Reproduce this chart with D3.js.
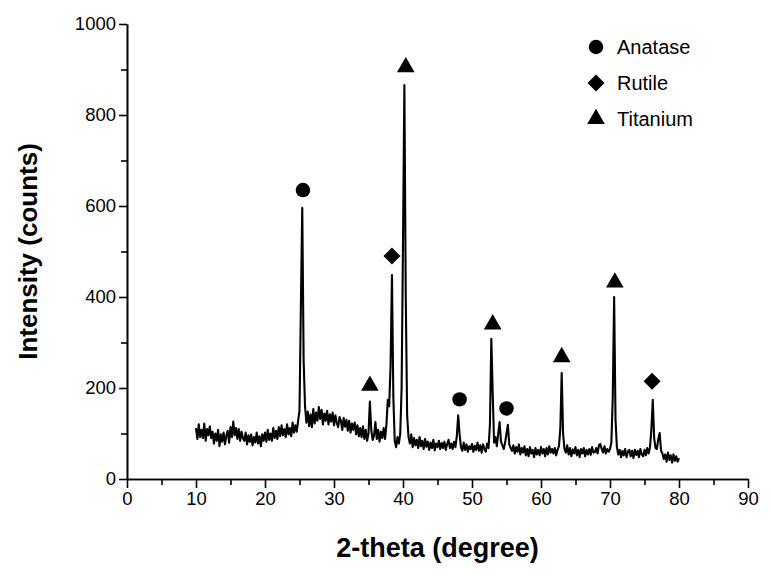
<!DOCTYPE html>
<html>
<head>
<meta charset="utf-8">
<script src="https://cdn.jsdelivr.net/npm/d3@7"></script>
<style>
  body { margin: 0; background: #fff; }
  text { font-family: "Liberation Sans", Arial, sans-serif; fill: #000; }
</style>
</head>
<body>
<div id="viz"></div>
<script>
// scan grid: 10 to 80 degrees, 0.2 degree steps
let startAngle = 10, stepAngle = 0.2;

// intensity (counts), one row per degree (x.0, x.2, x.4, x.6, x.8)
let intensity = [
    112, 88, 120, 92, 108,    // 10
    90, 122, 84, 110, 96,     // 11
    116, 90, 104, 78, 100,    // 12
    84, 108, 72, 98, 82,      // 13
    102, 76, 96, 106, 80,     // 14
    114, 92, 126, 96, 112,    // 15
    88, 110, 84, 104, 90,     // 16
    84, 102, 76, 96, 82,      // 17
    98, 74, 92, 80, 102,      // 18
    78, 94, 72, 98, 84,       // 19
    102, 82, 108, 86, 100,    // 20
    84, 112, 90, 106, 88,     // 21
    114, 94, 118, 96, 110,    // 22
    92, 120, 98, 112, 94,     // 23
    124, 102, 118, 104, 128,  // 24
    150, 380, 596, 260, 160,  // 25
    124, 148, 116, 142, 114,  // 26
    154, 122, 146, 128, 158,  // 27
    132, 152, 120, 144, 128,  // 28
    150, 120, 142, 126, 146,  // 29
    118, 140, 124, 114, 136,  // 30
    128, 108, 134, 115, 130,  // 31
    106, 128, 102, 122, 108,  // 32
    124, 98, 118, 94, 112,    // 33
    92, 116, 88, 108, 84,     // 34
    100, 170, 108, 86, 95,    // 35
    125, 88, 108, 82, 104,    // 36
    90, 112, 88, 120, 174,    // 37
    160, 250, 448, 180, 84,   // 38
    70, 92, 78, 100, 200,     // 39
    520, 866, 400, 140, 92,   // 40
    78, 98, 70, 90, 74,       // 41
    86, 68, 92, 72, 84,       // 42
    66, 88, 71, 82, 64,       // 43
    80, 68, 86, 63, 78,       // 44
    70, 84, 66, 79, 68,       // 45
    82, 64, 77, 86, 68,       // 46
    78, 66, 82, 70, 95,       // 47
    140, 98, 70, 62, 80,      // 48
    64, 76, 60, 72, 66,       // 49
    77, 60, 73, 64, 80,       // 50
    62, 74, 58, 76, 66,       // 51
    60, 78, 68, 120, 308,     // 52
    190, 80, 92, 72, 100,     // 53
    125, 82, 74, 66, 80,      // 54
    100, 119, 76, 68, 62,     // 55
    74, 56, 70, 60, 76,       // 56
    54, 68, 58, 72, 52,       // 57
    66, 50, 70, 56, 64,       // 58
    48, 68, 54, 64, 52,       // 59
    70, 56, 66, 50, 68,       // 60
    54, 72, 58, 66, 56,       // 61
    68, 52, 64, 72, 110,      // 62
    233, 100, 66, 58, 74,     // 63
    54, 68, 50, 65, 56,       // 64
    70, 52, 64, 48, 66,       // 65
    56, 68, 50, 64, 54,       // 66
    66, 53, 70, 58, 59,       // 67
    68, 56, 74, 77, 66,       // 68
    58, 72, 56, 66, 60,       // 69
    66, 80, 180, 400, 130,    // 70
    70, 54, 64, 48, 62,       // 71
    52, 66, 48, 60, 64,       // 72
    50, 62, 46, 64, 53,       // 73
    62, 48, 66, 54, 50,       // 74
    64, 52, 68, 56, 70,       // 75
    110, 174, 90, 68, 66,     // 76
    88, 101, 62, 56, 44,      // 77
    54, 38, 58, 42, 52,       // 78
    36, 54, 40, 50, 38,       // 79
    46                        // 80
];

// phase markers placed above peaks: [2-theta, counts]
let anatasePeaks = [[25.5, 635], [48.2, 175], [55.0, 155]];
let rutilePeaks = [[38.4, 490], [76.1, 215]];
let titaniumPeaks = [[35.2, 205], [40.4, 905], [53.0, 340], [63.0, 268], [70.7, 432]];

let phaseNames = ['Anatase', 'Rutile', 'Titanium'];

let xTicks = [0, 10, 20, 30, 40, 50, 60, 70, 80, 90];
let xMinorTicks = [5, 15, 25, 35, 45, 55, 65, 75, 85];
let yTicks = [0, 200, 400, 600, 800, 1000];
let yMinorTicks = [100, 300, 500, 700, 900];

let width = 773, height = 575;
let margin = { top: 24, right: 25, bottom: 96, left: 127 };

let svg = d3.select('#viz')
    .append('svg')
    .attr('width', width)
    .attr('height', height);

let xScale = d3.scaleLinear()
    .domain([0, 90])
    .range([margin.left, width - margin.right]);
let yScale = d3.scaleLinear()
    .domain([0, 1000])
    .range([height - margin.bottom, margin.top]);

let points = intensity.map((v, i) => [startAngle + i * stepAngle, v]);

let line = d3.line()
    .x(d => xScale(d[0]))
    .y(d => yScale(d[1]));

svg.append('path')
    .datum(points)
    .attr('d', line)
    .attr('fill', 'none')
    .attr('stroke', '#000')
    .attr('stroke-width', 2.1)
    .attr('stroke-linejoin', 'round');

// axes
let xAxis = d3.axisBottom(xScale)
    .tickValues(xTicks)
    .tickSize(9)
    .tickSizeOuter(0)
    .tickPadding(4)
    .tickFormat(d3.format('d'));
let xMinor = d3.axisBottom(xScale)
    .tickValues(xMinorTicks)
    .tickSize(6)
    .tickSizeOuter(0)
    .tickFormat('');
let yAxis = d3.axisLeft(yScale)
    .tickValues(yTicks)
    .tickSize(8)
    .tickSizeOuter(0)
    .tickPadding(3)
    .tickFormat(d3.format('d'));
let yMinor = d3.axisLeft(yScale)
    .tickValues(yMinorTicks)
    .tickSize(6)
    .tickSizeOuter(0)
    .tickFormat('');

let xGuide = svg.append('g')
    .attr('transform', 'translate(0,' + (height - margin.bottom) + ')')
    .call(xAxis);
svg.append('g')
    .attr('transform', 'translate(0,' + (height - margin.bottom) + ')')
    .call(xMinor);
let yGuide = svg.append('g')
    .attr('transform', 'translate(' + margin.left + ',0)')
    .call(yAxis);
svg.append('g')
    .attr('transform', 'translate(' + margin.left + ',0)')
    .call(yMinor);

svg.selectAll('.domain, .tick line')
    .attr('stroke', '#000')
    .attr('stroke-width', 1.6);
svg.selectAll('.tick text')
    .style('font-family', '"Liberation Sans", Arial, sans-serif')
    .style('font-size', '18.5px')
    .attr('fill', '#000');

// axis titles
svg.append('text')
    .attr('x', xScale(45))
    .attr('y', 557)
    .attr('text-anchor', 'middle')
    .style('font-size', '27px')
    .style('font-weight', 'bold')
    .text('2-theta (degree)');

svg.append('text')
    .attr('transform', 'translate(37,' + yScale(500) + ') rotate(-90)')
    .attr('text-anchor', 'middle')
    .style('font-size', '26px')
    .style('font-weight', 'bold')
    .text('Intensity (counts)');

// symbols
let circleSym = d3.symbol().type(d3.symbolCircle).size(165);
let diamondSym = d3.symbol().type(d3.symbolSquare).size(145);
let triangleSym = d3.symbol().type(d3.symbolTriangle).size(135);

let drawMarks = (data, sym, rotate) => {
    svg.append('g')
        .selectAll('path')
        .data(data)
        .enter()
        .append('path')
        .attr('d', sym)
        .attr('fill', '#000')
        .attr('transform', d => 'translate(' + xScale(d[0]) + ',' + yScale(d[1]) + ')' + (rotate ? ' rotate(45)' : ''));
};
drawMarks(anatasePeaks, circleSym, false);
drawMarks(rutilePeaks, diamondSym, true);
drawMarks(titaniumPeaks, triangleSym, false);

// legend
let legendSyms = [circleSym, diamondSym, triangleSym];
let legend = svg.append('g')
    .selectAll('g')
    .data(phaseNames)
    .enter()
    .append('g')
    .attr('transform', (d, i) => 'translate(596,' + (47 + i * 36) + ')');
legend.append('path')
    .attr('d', (d, i) => legendSyms[i]())
    .attr('transform', (d, i) => i === 1 ? 'rotate(45)' : null)
    .attr('fill', '#000');
legend.append('text')
    .attr('x', 21)
    .attr('y', 7)
    .style('font-size', '20px')
    .text(d => d);
</script>
</body>
</html>
